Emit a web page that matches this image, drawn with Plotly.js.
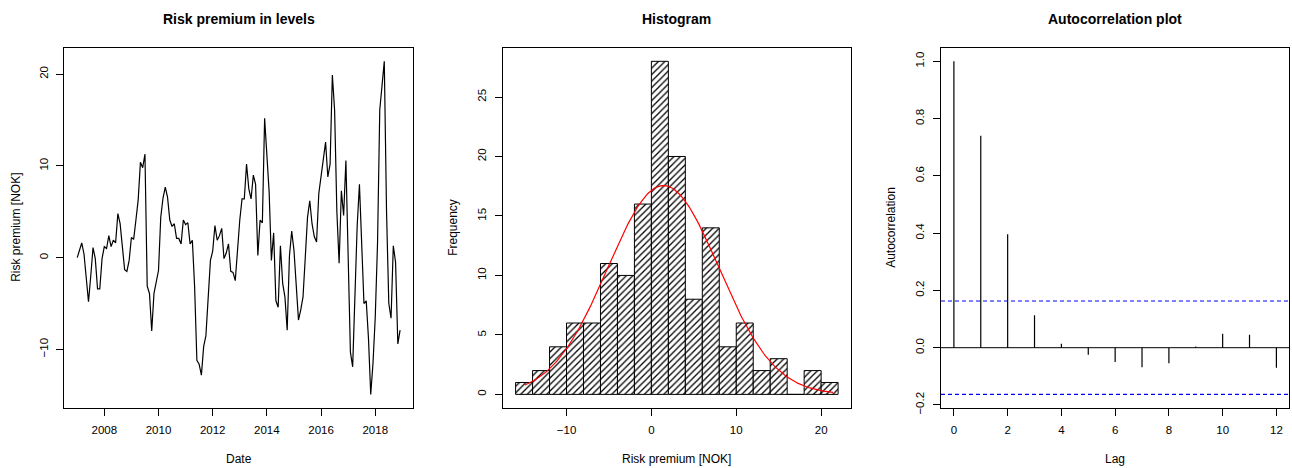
<!DOCTYPE html>
<html><head><meta charset="utf-8">
<script src="https://cdn.plot.ly/plotly-3.0.1.min.js"></script>
<style>html,body{margin:0;padding:0;background:#fff}#chart{width:1292px;height:468px}</style>
</head><body><div id="chart"></div>
<script>
// ---------- data ----------
const startYear = 2007;
const monthsPerYear = 12;
const riskPremium = [
  0.0, 0.9, 1.6, 0.4, -2.2, -4.8, -2.0, 1.1, -0.1, -3.4,
  -3.4, -0.1, 1.2, 1.0, 2.4, 1.2, 1.9, 1.6, 4.8, 3.7,
  1.2, -1.3, -1.5, -0.3, 2.2, 2.0, 4.1, 6.3, 10.4, 9.8,
  11.3, -3.1, -3.9, -8.0, -3.9, -2.7, -1.4, 4.4, 6.5, 7.7,
  6.6, 4.1, 3.4, 3.7, 2.1, 2.1, 1.5, 4.1, 3.6, 3.8,
  1.5, 1.9, -3.2, -11.2, -11.6, -12.8, -9.7, -8.5, -4.3, -0.3,
  0.7, 3.5, 1.9, 2.4, 3.2, -0.1, 0.5, 1.5, -1.5, -1.6,
  -2.5, 1.2, 4.1, 6.4, 6.4, 10.2, 7.5, 6.4, 9.0, 8.0,
  0.25, 4.1, 3.8, 15.2, 10.8, 7.2, -0.3, 2.7, -4.7, -5.4,
  1.3, -2.8, -4.3, -7.9, 0.2, 2.9, 0.8, -3.5, -6.8, -5.7,
  -4.3, 0.0, 4.4, 6.2, 3.7, 2.3, 1.7, 7.0, 9.0, 10.8,
  12.6, 8.8, 10.2, 19.9, 16.1, 5.0, -0.6, 7.3, 4.6, 10.6,
  0.0, -10.3, -11.9, -3.5, 3.5, 8.0, 1.7, -5.0, -4.7, -8.8,
  -14.9, -11.5, -6.5, 1.5, 16.1, 18.6, 21.4, 5.0, -5.0, -6.6,
  1.3, -0.5, -9.4, -7.9
];
const yearTicks = [2008, 2010, 2012, 2014, 2016, 2018];
const levelYTicks = [-10, 0, 10, 20];

const histBreaks = [-16, -14, -12, -10, -8, -6, -4, -2, 0, 2, 4, 6, 8, 10, 12, 14, 16, 18, 20, 22];
const histCounts = [1, 2, 4, 6, 6, 11, 10, 16, 28, 20, 8, 14, 4, 6, 2, 3, 0, 2, 1];
const histXTicks = [-10, 0, 10, 20];
const histYTicks = [0, 5, 10, 15, 20, 25];

const acfLags = [0, 1, 2, 3, 4, 5, 6, 7, 8, 9, 10, 11, 12];
const acfValues = [1.0, 0.740, 0.396, 0.113, 0.014, -0.025, -0.050, -0.068, -0.054, 0.004, 0.049, 0.045, -0.070];
const acfCI = 0.163;
const acfXTicks = [0, 2, 4, 6, 8, 10, 12];
const acfYTicks = [-0.2, 0.0, 0.2, 0.4, 0.6, 0.8, 1.0];

// ---------- helpers ----------
const FONT = '"Liberation Sans", Arial, Helvetica, sans-serif';
function rRange(lo, hi) { const d = (hi - lo) * 0.04; return [lo - d, hi + d]; }
function ax(domain, range, tickvals, extra) {
  return Object.assign({
    domain: domain, range: range, tickmode: 'array', tickvals: tickvals,
    showline: true, mirror: true, linecolor: '#000', linewidth: 1,
    ticks: 'outside', ticklen: 7, tickwidth: 1, tickcolor: '#000',
    showgrid: false, zeroline: false, fixedrange: true,
    tickfont: { family: FONT, size: 11.5, color: '#000' },
    ticklabelstandoff: 4
  }, extra || {});
}

const times = riskPremium.map((_, i) => startYear + i / monthsPerYear);
const yMin = Math.min(...riskPremium), yMax = Math.max(...riskPremium);

const binCenters = histCounts.map((_, i) => (histBreaks[i] + histBreaks[i + 1]) / 2);
const binWidths = histCounts.map((_, i) => histBreaks[i + 1] - histBreaks[i]);
const histXRange = rRange(histBreaks[0], histBreaks[histBreaks.length - 1]);
const n = riskPremium.length;
const mean = riskPremium.reduce((a, b) => a + b, 0) / n;
const sd = Math.sqrt(riskPremium.reduce((a, b) => a + (b - mean) ** 2, 0) / (n - 1));
const binW = histBreaks[1] - histBreaks[0];
const curveX = [], curveY = [];
for (let k = 0; k <= 200; k++) {
  const x = yMin + (yMax - yMin) * k / 200;
  curveX.push(x);
  curveY.push(n * binW * Math.exp(-0.5 * ((x - mean) / sd) ** 2) / (sd * Math.sqrt(2 * Math.PI)));
}

const stemX = [], stemY = [];
acfLags.forEach((l, i) => { stemX.push(l, l, null); stemY.push(0, acfValues[i], null); });

// ---------- traces ----------
const traces = [
  { type: 'scatter', mode: 'lines', x: times, y: riskPremium, xaxis: 'x', yaxis: 'y',
    line: { color: '#000', width: 1.2 }, hoverinfo: 'skip' },
  { type: 'bar', x: binCenters, y: histCounts, width: binWidths, xaxis: 'x2', yaxis: 'y2',
    marker: { color: '#fff', line: { color: '#000', width: 1 },
      pattern: { shape: '/', fgcolor: '#000', bgcolor: '#fff', size: 4.6, solidity: 0.28, fillmode: 'replace' } },
    hoverinfo: 'skip' },
  { type: 'scatter', mode: 'lines', x: curveX, y: curveY, xaxis: 'x2', yaxis: 'y2',
    line: { color: '#ff0000', width: 1.2 }, hoverinfo: 'skip' },
  { type: 'scatter', mode: 'lines', x: stemX, y: stemY, xaxis: 'x3', yaxis: 'y3',
    line: { color: '#000', width: 1.2 }, connectgaps: false, hoverinfo: 'skip' }
];

// ---------- layout ----------
const W = 1292, H = 468;
const yDom = [(H - 407.7) / H, (H - 48) / H];
const d1 = [64.3 / W, 413 / W], d2 = [502.7 / W, 851 / W], d3 = [941 / W, 1289.3 / W];

function ann(text, x, y, extra) {
  return Object.assign({ text: text, xref: 'paper', yref: 'paper', x: x, y: y,
    xanchor: 'center', yanchor: 'middle', showarrow: false,
    font: { family: FONT, size: 12, color: '#000' } }, extra || {});
}
const titleFont = { family: FONT, size: 14, color: '#000', weight: 'bold' };

const layout = {
  width: W, height: H, margin: { l: 0, r: 0, t: 0, b: 0 },
  paper_bgcolor: '#fff', plot_bgcolor: '#fff', showlegend: false,
  xaxis: ax(d1, rRange(times[0], times[times.length - 1]), yearTicks, { anchor: 'y' }),
  yaxis: ax(yDom, rRange(yMin, yMax), levelYTicks, { anchor: 'x', tickangle: -90 }),
  xaxis2: ax(d2, histXRange, histXTicks, { anchor: 'y2' }),
  yaxis2: ax(yDom, rRange(0, Math.max(...histCounts)), histYTicks, { anchor: 'x2', tickangle: -90 }),
  xaxis3: ax(d3, rRange(acfLags[0], acfLags[acfLags.length - 1]), acfXTicks, { anchor: 'y3' }),
  yaxis3: ax(yDom, rRange(Math.min(-acfCI, ...acfValues), Math.max(acfCI, ...acfValues)), acfYTicks,
    { anchor: 'x3', tickangle: -90, tickformat: '.1f' }),
  shapes: [
    { type: 'line', xref: 'x3 domain', yref: 'y3', x0: 0, x1: 1, y0: 0, y1: 0, line: { color: '#000', width: 1 } },
    { type: 'line', xref: 'x3 domain', yref: 'y3', x0: 0, x1: 1, y0: acfCI, y1: acfCI, line: { color: '#0000ff', width: 1.2, dash: '4px,3px' } },
    { type: 'line', xref: 'x3 domain', yref: 'y3', x0: 0, x1: 1, y0: -acfCI, y1: -acfCI, line: { color: '#0000ff', width: 1.2, dash: '4px,3px' } }
  ],
  annotations: [
    ann('Risk premium in levels', (d1[0] + d1[1]) / 2, (H - 19) / H, { font: titleFont }),
    ann('Histogram', (d2[0] + d2[1]) / 2, (H - 19) / H, { font: titleFont }),
    ann('Autocorrelation plot', (d3[0] + d3[1]) / 2, (H - 19) / H, { font: titleFont }),
    ann('Date', (d1[0] + d1[1]) / 2, (H - 459) / H),
    ann('Risk premium [NOK]', (d2[0] + d2[1]) / 2, (H - 459) / H),
    ann('Lag', (d3[0] + d3[1]) / 2, (H - 459) / H),
    ann('Risk premium [NOK]', 16 / W, (yDom[0] + yDom[1]) / 2, { textangle: -90 }),
    ann('Frequency', 453 / W, (yDom[0] + yDom[1]) / 2, { textangle: -90 }),
    ann('Autocorrelation', 891 / W, (yDom[0] + yDom[1]) / 2, { textangle: -90 })
  ]
};

Plotly.newPlot('chart', traces, layout, { displayModeBar: false, staticPlot: true });
</script>
</body></html>
